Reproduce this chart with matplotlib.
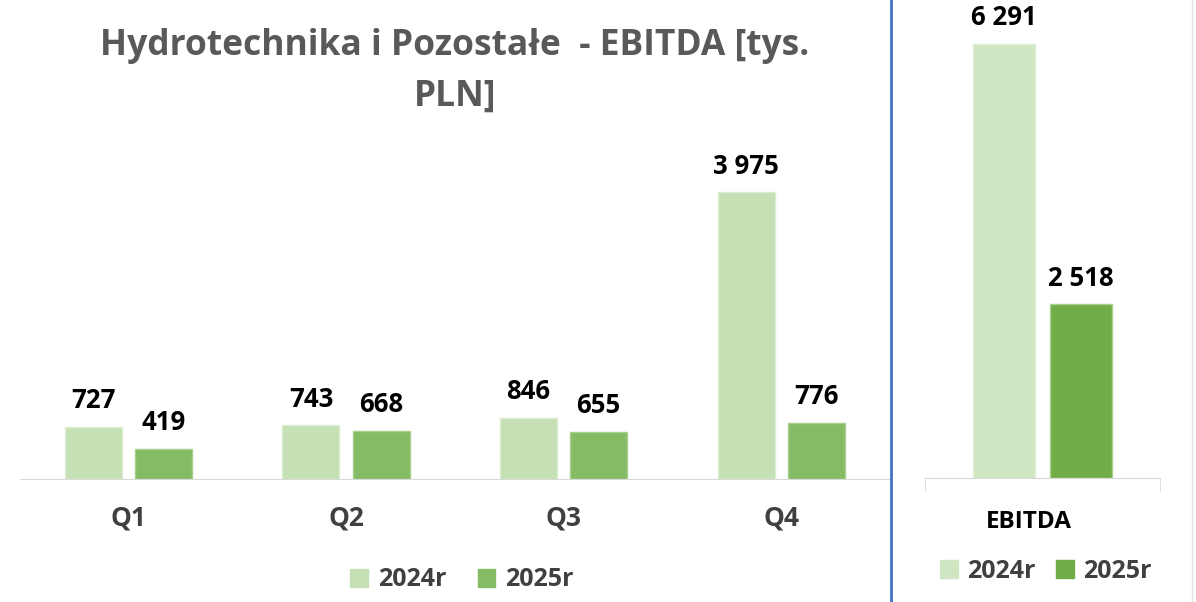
import numpy as np
import matplotlib.pyplot as plt
import matplotlib.transforms as mtransforms
from matplotlib.patches import Patch
from matplotlib.lines import Line2D

# dane
kwartaly = ['Q1', 'Q2', 'Q3', 'Q4']
ebitda_2024 = [727, 743, 846, 3975]
ebitda_2025 = [419, 668, 655, 776]
suma_kategoria = ['EBITDA']
suma_2024 = [6291]
suma_2025 = [2518]
etykiety = ['2024r', '2025r']
tytul = 'Hydrotechnika i Pozostałe  - EBITDA [tys.\nPLN]'

plt.rcParams['font.family'] = ['Open Sans', 'DejaVu Sans']

W, H = 1196, 602
fig = plt.figure(figsize=(W / 100, H / 100), dpi=100)

def fmt(v):
    return f'{v:,}'.replace(',', ' ')

szary = '#404040'

# lewy wykres - kwartaly
ax = fig.add_axes([19.6 / W, (H - 479) / H, 870.4 / W, 479 / H])
x = np.arange(len(kwartaly))
szer = 0.262
b1 = ax.bar(x - 0.161, ebitda_2024, szer, color='#c5e0b4', edgecolor='#dcedd2', linewidth=1)
b2 = ax.bar(x + 0.161, ebitda_2025, szer, color='#84bb64', edgecolor='#a9d18e', linewidth=1)
for bars, vals in [(b1, ebitda_2024), (b2, ebitda_2025)]:
    for r, v in zip(bars, vals):
        ax.annotate(fmt(v), (r.get_x() + r.get_width() / 2, v), xytext=(0, 9),
                    textcoords='offset points', ha='center', va='bottom',
                    fontsize=18.5, fontweight='bold', color='black')
ax.set_xlim(-0.5, len(kwartaly) - 0.5)
ax.set_ylim(0, 479 / 0.0722)
ax.set_xticks(x)
ax.set_xticklabels(kwartaly, fontsize=19, fontweight='bold', color=szary)
ax.tick_params(axis='x', length=0, pad=18)
ax.set_yticks([])
for s in ['top', 'right', 'left']:
    ax.spines[s].set_visible(False)
ax.spines['bottom'].set_color('#d9d9d9')

fig.text(455 / W, 1 - 71 / H, tytul, ha='center', va='center', fontsize=25.5,
         fontweight='bold', color='#595959', linespacing=1.55)

leg1 = fig.legend(handles=[Patch(color='#c5e0b4'), Patch(color='#84bb64')], labels=etykiety,
                  loc='center', bbox_to_anchor=(462 / W, 1 - 580 / H), ncol=2, frameon=False,
                  prop={'size': 18, 'weight': 'bold'}, handlelength=0.7, handleheight=0.7,
                  handletextpad=0.4, columnspacing=1.25)
for t in leg1.get_texts():
    t.set_color(szary)

# prawy wykres - suma
ax2 = fig.add_axes([925 / W, (H - 478) / H, 235 / W, 478 / H])
x2 = np.arange(len(suma_kategoria))
szer2 = 0.264
c1 = ax2.bar(x2 - 0.164, suma_2024, szer2, color='#d0e5c2', edgecolor='#e2efd9', linewidth=1)
c2 = ax2.bar(x2 + 0.164, suma_2025, szer2, color='#70ad47', edgecolor='#a9d18e', linewidth=1)
for bars, vals in [(c1, suma_2024), (c2, suma_2025)]:
    for r, v in zip(bars, vals):
        ax2.annotate(fmt(v), (r.get_x() + r.get_width() / 2, v), xytext=(0, 9),
                     textcoords='offset points', ha='center', va='bottom',
                     fontsize=18.5, fontweight='bold', color='black')
ax2.set_xlim(-0.5, 0.5)
ax2.set_ylim(0, 478 / 0.069)
ax2.set_xticks([-0.5, 0.5], minor=True)
ax2.tick_params(axis='x', which='minor', length=9, color='#d9d9d9')
ax2.set_xticks(x2)
ax2.set_xticklabels(suma_kategoria, fontsize=17.5, fontweight='bold', color='black')
ax2.tick_params(axis='x', which='major', length=0, pad=23)
# etykieta EBITDA przesunieta troche w lewo jak w oryginale
przes = mtransforms.ScaledTranslation(-14 / 100, 0, fig.dpi_scale_trans)
for lab in ax2.get_xticklabels():
    lab.set_transform(lab.get_transform() + przes)
ax2.set_yticks([])
for s in ['top', 'right', 'left']:
    ax2.spines[s].set_visible(False)
ax2.spines['bottom'].set_color('#d9d9d9')

leg2 = fig.legend(handles=[Patch(color='#d0e5c2'), Patch(color='#70ad47')], labels=etykiety,
                  loc='center', bbox_to_anchor=(1046 / W, 1 - 571 / H), ncol=2, frameon=False,
                  prop={'size': 18, 'weight': 'bold'}, handlelength=0.7, handleheight=0.7,
                  handletextpad=0.4, columnspacing=0.8)
for t in leg2.get_texts():
    t.set_color(szary)

# ramki
fig.add_artist(Line2D([891 / W, 891 / W], [0, 1], color='#4472c4', linewidth=2))
fig.add_artist(Line2D([1192 / W, 1192 / W], [0, 1], color='#e0e0e0', linewidth=1))

fig.savefig('out.png', dpi=100)
